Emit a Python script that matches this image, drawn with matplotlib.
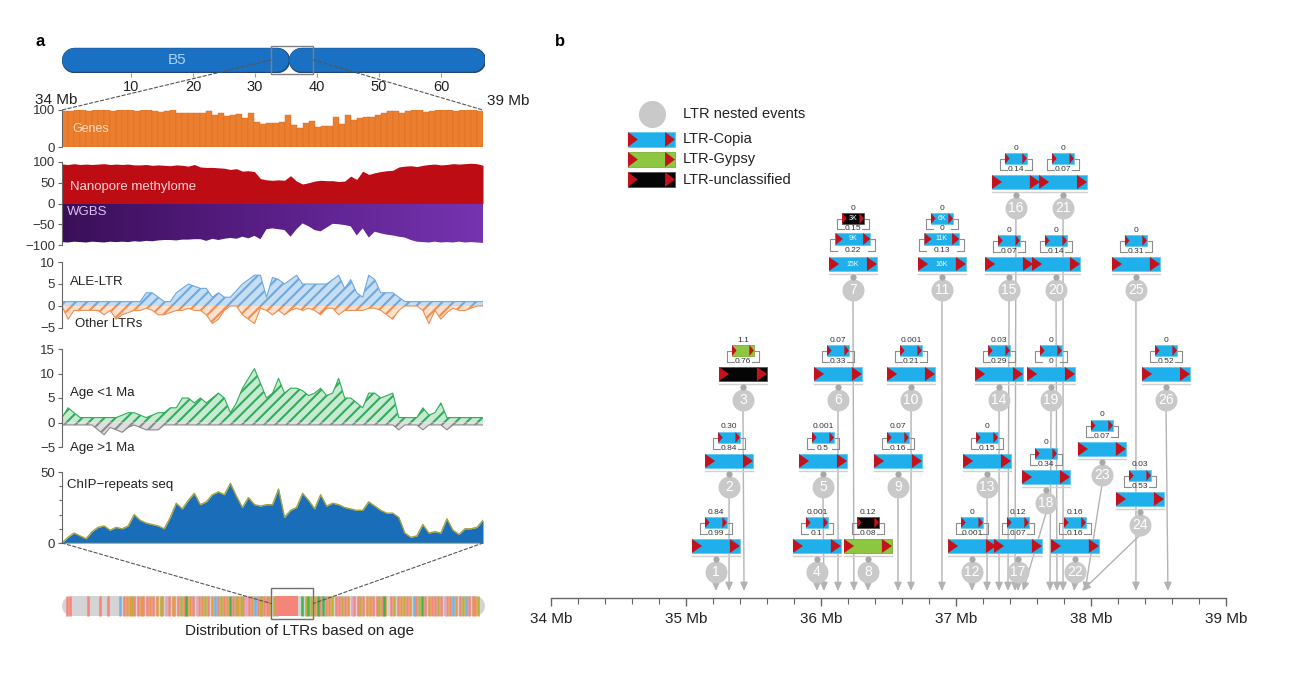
"""
Nested LTR retrotransposon figure (panel a: tracks on chr B5, panel b: nested events 34-39 Mb).
"""

import numpy as np
import matplotlib
matplotlib.use('Agg')
import matplotlib.pyplot as plt
from matplotlib.patches import Rectangle, Polygon, ConnectionPatch
from matplotlib.colors import LinearSegmentedColormap

plt.rcParams['font.family'] = ['Liberation Sans', 'DejaVu Sans']
plt.rcParams['hatch.linewidth'] = 1.5

W, H = 1310, 676

# ---------------- panel a data ----------------
CHR_NAME = 'B5'
CHR_LEN = 67
CENTROMERE = 35.5
CHR_TICKS = [10, 20, 30, 40, 50, 60]
ZOOM_BOX = (32.6, 39.4)

GENES = [98, 98, 99, 100, 96, 99, 99, 100, 97, 100,
         100, 99, 96, 99, 100, 97, 95, 96, 99, 93,
         93, 92, 92, 92, 96, 87, 92, 84, 86, 90,
         78, 93, 68, 63, 64, 66, 67, 87, 60, 52,
         66, 70, 55, 56, 57, 82, 63, 86, 72, 78,
         80, 82, 86, 93, 96, 96, 92, 97, 99, 99,
         94, 96, 99, 99, 100, 98, 99, 100, 99, 98]

METH_NANOPORE = [95, 94, 96, 94, 95, 94, 95, 96, 94, 95,
                 94, 95, 93, 93, 94, 92, 93, 92, 91, 93,
                 92, 90, 94, 88, 87, 87, 86, 85, 82, 84,
                 78, 79, 77, 60, 57, 56, 57, 56, 67, 54,
                 47, 50, 54, 56, 55, 55, 53, 54, 66, 58,
                 78, 70, 74, 77, 79, 80, 88, 90, 91, 89,
                 92, 94, 95, 93, 94, 96, 95, 96, 97, 96, 92]

METH_WGBS = [-93, -94, -92, -93, -94, -92, -93, -94, -92, -93,
             -92, -93, -91, -92, -90, -91, -89, -88, -88, -89,
             -87, -87, -86, -86, -90, -85, -88, -85, -83, -85,
             -80, -84, -78, -86, -62, -60, -62, -64, -80, -62,
             -48, -55, -64, -67, -58, -49, -50, -52, -55, -77,
             -60, -82, -68, -72, -75, -77, -80, -82, -88, -92,
             -93, -94, -92, -94, -93, -94, -92, -94, -93, -94, -95]

ALE_LTR = [1, 1, 1, 1, 1, 1, 1, 1, 1, 1, 1, 1, 1, 1,
           3, 3, 2, 1, 1, 3, 4, 5, 4.5, 4, 4, 2, 3, 2, 2, 3.5,
           5, 6, 7, 7, 2, 6.5, 6, 5, 6, 7, 5, 5, 5, 5, 5, 6,
           7, 4, 6, 3, 2, 7, 6, 3, 3, 3, 2,
           1, 1, 1, 1, 1, 1, 1, 1, 1, 1, 1, 1, 1, 1]

OTHER_LTR = [0, -3, -1, -1, -1, -1, -1, -2, -1, -3,
             -2, -1.5, -1, -1, -0.5, -1, -2, -2, -1.5, -1,
             -1, -0.5, -1, -1, -2, -4, -3, -1, 0, 0,
             -2, -3, -4, -0.5, -1, -2, -1, -2, -1, -0.5,
             -1, -0.5, -1, -2, -0.5, -0.5, -2, -1, -1, -1,
             -1, -0.5, -0.5, -1, -2, -3, -1, 0, 0, 0,
             -1, -4, -1, -3, -1.5, -0.5, -1, -1, -0.5, 0, 0]

AGE_YOUNG = [1, 3, 2, 1, 1, 1, 1, 1, 1, 1,
             1.5, 2, 2, 1.5, 1, 1.5, 2, 2, 3, 3,
             5, 5, 4, 5, 4, 5, 6, 5, 2, 4,
             7, 9, 11, 8, 5, 6, 9, 6, 7, 7,
             6.5, 5.5, 6, 7, 5.5, 6, 9, 5, 5, 4,
             3, 6, 6, 5, 5.5, 6, 1, 1, 1, 1,
             3, 1.5, 2, 4, 1, 1, 1, 1, 1, 1, 1]

AGE_OLD = [-0.5, -0.5, -0.5, -0.5, -0.5, -0.5, -1.5, -2.5, -1, -1.5,
           -2, -1, -0.5, -1, -1.5, -1.5, -1.5, -0.5, -0.5, -0.5,
           -0.5, -0.5, -0.5, -0.5, -0.5, -0.5, -0.5, -0.5, -0.5, -0.5,
           -0.5, -0.5, -0.5, -0.5, -0.5, -0.5, -0.5, -0.5, -0.5, -0.5,
           -0.5, -0.5, -0.5, -0.5, -0.5, -0.5, -0.5, -0.5, -0.5, -0.5,
           -0.5, -0.5, -0.5, -0.5, -0.5, -0.5, -1.5, -0.5, -0.5, -0.5,
           -1.5, -0.5, -0.5, -0.5, -1.5, -0.5, -0.5, -0.5, -0.5, -0.5, -0.5]

CHIP = [0, 4, 7, 5, 3, 8, 11, 12, 9, 11,
        10, 12, 20, 16, 14, 13, 12, 10, 18, 28,
        24, 30, 35, 27, 29, 34, 36, 34, 42, 33,
        25, 32, 27, 26, 27, 27, 38, 18, 23, 25,
        35, 30, 24, 34, 26, 28, 27, 25, 24, 23,
        23, 29, 26, 23, 21, 21, 18, 7, 4, 5,
        13, 7, 8, 7, 17, 9, 6, 10, 10, 11, 16]

# LTR insertions along the whole chromosome (Mb), by age class colour
STRIPE_SALMON = [-0.4, 0.15, 3.1, 5.0, 6.3, 8.8, 10.5, 11.2, 12.0, 12.6, 13.5,
                 15.0, 16.2, 17.0, 17.6, 18.5, 20.0, 21.5, 22.5, 24.0, 25.0,
                 26.5, 28.0, 29.0, 30.5, 31.5, 32.0, 40.5, 41.5, 43.0, 43.6,
                 44.5, 46.0, 46.6, 47.5, 49.0, 49.6, 50.5, 52.0, 53.0, 54.5,
                 56.0, 57.5, 58.5, 59.0, 60.0, 61.5, 63.0, 64.5, 65.2]
STRIPE_ORANGE = [9.4, 9.8, 11.6, 13.0, 14.2, 16.8, 19.0, 19.5, 21.0, 23.0,
                 25.5, 27.2, 29.5, 31.0, 32.2, 39.6, 42.0, 45.0, 48.0, 48.5,
                 51.0, 53.6, 55.0, 58.0, 61.0, 62.4, 65.5]
STRIPE_OLIVE = [10.2, 14.8, 18.0, 22.0, 24.5, 26.9, 27.8, 30.9, 33.0, 38.2,
                39.0, 42.5, 44.0, 47.0, 50.0, 52.5, 54.0, 56.5, 59.5, 63.5, 66.0]
STRIPE_GREEN = [18.8, 26.0, 37.6, 38.6, 40.2, 41.0, 50.8, 57.0]
STRIPE_BLUE = [8.2, 23.6, 30.0, 33.6, 55.6, 62.0, 64.0]
STRIPE_PINK = [15.6, 20.6, 28.6, 45.6, 60.6]
YOUNG_BLOCK = (33.2, 36.9)

# ---------------- panel b data ----------------
EVENT_ID = list(range(1, 27))
EVENT_MB = [35.222, 35.319, 35.422, 35.970, 36.015, 36.126, 36.237, 36.348,
            36.570, 36.667, 36.896, 37.119, 37.230, 37.319, 37.393, 37.444,
            37.459, 37.667, 37.704, 37.741, 37.793, 37.881, 38.081, 38.363,
            38.333, 38.556]
# height of the event marker above the axis (drawing units)
EVENT_LEVEL = [26, 111, 198, 26, 111, 198, 308, 26, 111, 198, 308, 26, 111,
               198, 308, 390, 26, 95, 198, 308, 390, 26, 123, 73, 308, 198]
ARROW_MB = [35.222, 35.319, 35.430, 35.970, 36.022, 36.126, 36.244, 36.348,
            36.570, 36.667, 36.896, 37.119, 37.230, 37.319, 37.385, 37.437,
            37.459, 37.496, 37.696, 37.748, 37.793, 37.874, 37.956, 37.933,
            38.333, 38.570]
OUTER_TYPE = ['copia', 'copia', 'unclass', 'copia', 'copia', 'copia', 'copia',
              'gypsy', 'copia', 'copia', 'copia', 'copia', 'copia', 'copia',
              'copia', 'copia', 'copia', 'copia', 'copia', 'copia', 'copia',
              'copia', 'copia', 'copia', 'copia', 'copia']
INNER_TYPES = [['copia'], ['copia'], ['gypsy'], ['copia'], ['copia'], ['copia'],
               ['copia', 'unclass'], ['unclass'], ['copia'], ['copia'],
               ['copia', 'copia'], ['copia'], ['copia'], ['copia'], ['copia'],
               ['copia'], ['copia'], ['copia'], ['copia'], ['copia'], ['copia'],
               ['copia'], ['copia'], ['copia'], ['copia'], ['copia']]
AGES = [['0.99', '0.84'], ['0.84', '0.30'], ['0.76', '1.1'], ['0.1', '0.001'],
        ['0.5', '0.001'], ['0.33', '0.07'], ['0.22', '0.15', '0'],
        ['0.08', '0.12'], ['0.16', '0.07'], ['0.21', '0.001'],
        ['0.13', '0', '0'], ['0.001', '0'], ['0.15', '0'], ['0.29', '0.03'],
        ['0.07', '0'], ['0.14', '0'], ['0.07', '0.12'], ['0.34', '0'],
        ['0', '0'], ['0.14', '0'], ['0.07', '0'], ['0.16', '0.16'],
        ['0.07', '0'], ['0.53', '0.03'], ['0.31', '0'], ['0.52', '0']]
SIZES = {7: ['15K', '9K', '3K'], 11: ['16K', '11K', '6K']}

LEGEND_LABELS = ['LTR nested events', 'LTR-Copia', 'LTR-Gypsy', 'LTR-unclassified']

# ---------------- styling ----------------
TE_FACE = {'copia': '#1fafea', 'gypsy': '#8dc63f', 'unclass': '#050505'}
TE_EDGE = {'copia': '#62c9f2', 'gypsy': '#79b02f', 'unclass': '#555555'}
TRI_RED = '#c4121c'
C_AXIS = '#666666'
C_TEXT = '#222222'
MB_PER_PX = 5 / 675


def px_axes(fig, x0, y0, x1, y1):
    """Axes placed by pixel box (top-left origin)."""
    return fig.add_axes([x0 / W, 1 - y1 / H, (x1 - x0) / W, (y1 - y0) / H])


def style_track(ax, ylim, yticks):
    ax.set_xlim(34, 39)
    ax.set_ylim(*ylim)
    ax.set_yticks(yticks)
    ax.set_xticks([])
    for s in ['top', 'right', 'bottom']:
        ax.spines[s].set_visible(False)
    ax.spines['left'].set_color(C_AXIS)
    ax.spines['left'].set_linewidth(0.8)
    ax.tick_params(axis='y', length=3, width=0.8, pad=2, labelsize=9.5,
                   colors=C_AXIS, labelcolor='#333333')
    ax.patch.set_alpha(0)


def draw_te(ax, xc, y0, wpx, hpx, kind, text=None):
    w = wpx * MB_PER_PX
    x0 = xc - w / 2
    ax.add_patch(Rectangle((x0, y0), w, hpx, facecolor=TE_FACE[kind],
                           edgecolor=TE_EDGE[kind], lw=0.6, zorder=3))
    tw = wpx * 0.21 * MB_PER_PX
    ax.add_patch(Polygon([(x0, y0), (x0, y0 + hpx), (x0 + tw, y0 + hpx / 2)],
                         closed=True, facecolor=TRI_RED, lw=0, zorder=4))
    ax.add_patch(Polygon([(x0 + w - tw, y0), (x0 + w - tw, y0 + hpx), (x0 + w, y0 + hpx / 2)],
                         closed=True, facecolor=TRI_RED, lw=0, zorder=4))
    if text:
        ax.text(xc, y0 + hpx / 2, text, color='white', fontsize=5,
                ha='center', va='center', zorder=5)
    return x0, x0 + w


fig = plt.figure(figsize=(W / 100, H / 100), dpi=100, facecolor='white')

# ================= panel a =================
fig.text(35 / W, 1 - 42 / H, 'a', fontsize=12, fontweight='bold', va='center')

# chromosome ideogram
ax_chr = px_axes(fig, 62, 47, 485, 73)
ax_chr.set_xlim(-1.13, 67.1)
ax_chr.set_ylim(0, 1)
cap = 12 * (67.1 + 1.13) / 423  # cap radius in Mb (12 px)
lobes = [(-1.13 + cap, CENTROMERE - cap), (CENTROMERE + cap, 67.1 - cap)]
for seg in lobes:
    ax_chr.plot(seg, [0.5, 0.5], color='#23466d', lw=18.3, solid_capstyle='round', zorder=1)
for seg in lobes:
    ax_chr.plot(seg, [0.5, 0.5], color='#1a70c3', lw=17.0, solid_capstyle='round', zorder=2)
ax_chr.text(17.4, 0.5, CHR_NAME, color='#a9d2f6', fontsize=11, ha='center', va='center', zorder=3)
ax_chr.add_patch(Rectangle((ZOOM_BOX[0], -0.02), ZOOM_BOX[1] - ZOOM_BOX[0], 1.04,
                           fill=False, edgecolor='#808080', lw=1, zorder=4, clip_on=False))
ax_chr.set_xticks(CHR_TICKS)
ax_chr.set_yticks([])
for s in ax_chr.spines.values():
    s.set_visible(False)
ax_chr.tick_params(axis='x', length=3, pad=2, labelsize=10.5, colors='#999999', labelcolor=C_TEXT)
ax_chr.patch.set_alpha(0)

fig.text(35 / W, 1 - 100 / H, '34 Mb', fontsize=11, va='center', color=C_TEXT)
fig.text(487 / W, 1 - 101 / H, '39 Mb', fontsize=11, va='center', color=C_TEXT)

# genes
ax_g = px_axes(fig, 62, 110, 483, 147)
n = len(GENES)
xb = 34 + (np.arange(n) + 0.5) * 5 / n
ax_g.bar(xb, GENES, width=5 / n, color='#eb7f2f', edgecolor='#d36c22', lw=0.3)
style_track(ax_g, (0, 100), [0, 100])
ax_g.text(34.12, 50, 'Genes', color='#fbdcc2', fontsize=9, va='center')

# methylome
ax_m = px_axes(fig, 62, 162, 483, 245)
x = np.linspace(34, 39, len(METH_NANOPORE))
ax_m.fill_between(x, 0, METH_NANOPORE, color='#be0c15', lw=0, zorder=2)
cmap = LinearSegmentedColormap.from_list('wgbs', ['#3a0f58', '#5a1f88', '#7634b0'])
im = ax_m.imshow(np.linspace(0, 1, 256)[None, :], cmap=cmap, extent=(34, 39, -100, 0),
                 aspect='auto', zorder=1)
xw = np.linspace(34, 39, len(METH_WGBS))
poly = ax_m.fill_between(xw, METH_WGBS, 0, facecolor='none', edgecolor='none')
im.set_clip_path(poly.get_paths()[0], transform=ax_m.transData)
style_track(ax_m, (-100, 100), [-100, -50, 0, 50, 100])
ax_m.text(34.1, 40, 'Nanopore methylome', color='#f8d6d6', fontsize=9.5, va='center', zorder=3)
ax_m.text(34.06, -20, 'WGBS', color='#dcc0f2', fontsize=9.5, va='center', zorder=3)

# ALE vs other LTRs
ax_a = px_axes(fig, 62, 262, 483, 328)
x = np.linspace(34, 39, len(ALE_LTR))
ax_a.fill_between(x, 0, ALE_LTR, facecolor='#c6def4', edgecolor='#6ea8df', hatch='///', lw=0)
ax_a.plot(x, ALE_LTR, color='#6ea8df', lw=0.8)
x = np.linspace(34, 39, len(OTHER_LTR))
ax_a.fill_between(x, OTHER_LTR, 0, facecolor='#fde0cd', edgecolor='#ee8f50', hatch='///', lw=0)
ax_a.plot(x, OTHER_LTR, color='#ee8f50', lw=0.8)
style_track(ax_a, (-5, 10), [-5, 0, 5, 10])
ax_a.text(34.1, 5.4, 'ALE-LTR', color=C_TEXT, fontsize=9.5, va='center')
ax_a.text(34.15, -4.1, 'Other LTRs', color=C_TEXT, fontsize=9.5, va='center')

# age classes
ax_y = px_axes(fig, 62, 349, 483, 447)
x = np.linspace(34, 39, len(AGE_YOUNG))
ax_y.fill_between(x, 0, AGE_YOUNG, facecolor='#c8ead2', edgecolor='#2fae5a', hatch='///', lw=0)
ax_y.plot(x, AGE_YOUNG, color='#2fae5a', lw=0.8)
x = np.linspace(34, 39, len(AGE_OLD))
ax_y.fill_between(x, AGE_OLD, 0, facecolor='#dedede', edgecolor='#8a8a8a', hatch='///', lw=0)
ax_y.plot(x, AGE_OLD, color='#8a8a8a', lw=0.8)
style_track(ax_y, (-5, 15), [-5, 0, 5, 10, 15])
ax_y.text(34.1, 6.0, 'Age <1 Ma', color=C_TEXT, fontsize=9.5, va='center')
ax_y.text(34.09, -5.2, 'Age >1 Ma', color=C_TEXT, fontsize=9.5, va='center', clip_on=False)

# ChIP
ax_c = px_axes(fig, 62, 472, 483, 543)
x = np.linspace(34, 39, len(CHIP))
ax_c.fill_between(x, 0, CHIP, color='#1a6db8', lw=0)
ax_c.plot(x, CHIP, color='#a3a23c', lw=1.0)
ax_c.axhline(0, color='#a3a23c', lw=1.0)
style_track(ax_c, (0, 50), [0, 50])
ax_c.set_yticks([10, 20, 30, 40], minor=True)
ax_c.tick_params(axis='y', which='minor', length=2.5, width=0.8, colors=C_AXIS)
ax_c.text(34.06, 41, 'ChIP\u2212repeats seq', color=C_TEXT, fontsize=9.5, va='center')

# LTR age distribution along chromosome
ax_d = px_axes(fig, 62, 588, 485, 619)
ax_d.set_xlim(-1.13, 67.1)
ax_d.set_ylim(0, 1)
ax_d.plot([-1.13 + 1.6, 67.1 - 1.6], [0.42, 0.42], color='#d4d4d4', lw=14.4,
          solid_capstyle='round', zorder=1)
for pos, col in [(STRIPE_SALMON, '#f3857a'), (STRIPE_ORANGE, '#e59a45'),
                 (STRIPE_OLIVE, '#b9b03c'), (STRIPE_GREEN, '#3fb44a'),
                 (STRIPE_BLUE, '#72b2e2'), (STRIPE_PINK, '#e0a3c2')]:
    ax_d.vlines(pos, 0.1, 0.74, colors=col, lw=1.8, zorder=2)
ax_d.axvspan(YOUNG_BLOCK[0], YOUNG_BLOCK[1], ymin=0.1, ymax=0.74, color='#f3857a', lw=0, zorder=2)
ax_d.add_patch(Rectangle((ZOOM_BOX[0], 0), ZOOM_BOX[1] - ZOOM_BOX[0], 1,
                         fill=False, edgecolor='#707070', lw=1, zorder=4, clip_on=False))
ax_d.axis('off')
fig.text(300 / W, 1 - 631 / H, 'Distribution of LTRs based on age', fontsize=11,
         ha='center', va='center', color=C_TEXT)

# dashed zoom connectors
for xa, axb, xyb in [(ZOOM_BOX[0], ax_g, (0, 1)), (ZOOM_BOX[1], ax_g, (1, 1))]:
    fig.add_artist(ConnectionPatch(xyA=(xa, 0.5), coordsA=ax_chr.transData, xyB=xyb,
                                   coordsB=axb.transAxes, ls=(0, (3, 2)), color='#555555', lw=0.8))
for xyA, xb_ in [((0, 0), ZOOM_BOX[0]), ((1, 0), ZOOM_BOX[1])]:
    fig.add_artist(ConnectionPatch(xyA=xyA, coordsA=ax_c.transAxes, xyB=(xb_, 0.5),
                                   coordsB=ax_d.transData, ls=(0, (3, 2)), color='#555555', lw=0.8))

# ================= panel b =================
fig.text(555 / W, 1 - 42 / H, 'b', fontsize=12, fontweight='bold', va='center')
ax = px_axes(fig, 551, 78, 1226, 598)
ax.set_xlim(34, 39)
ax.set_ylim(0, 520)
for s in ['top', 'right', 'left']:
    ax.spines[s].set_visible(False)
ax.spines['bottom'].set_color(C_AXIS)
ax.spines['bottom'].set_linewidth(1)
ax.set_yticks([])
ax.set_xticks(range(34, 40))
ax.set_xticklabels([f'{v} Mb' for v in range(34, 40)])
ax.set_xticks(np.arange(34, 39.01, 0.2), minor=True)
ax.tick_params(axis='x', which='major', length=6, width=1, colors=C_AXIS,
               labelcolor=C_TEXT, labelsize=11, pad=4)
ax.tick_params(axis='x', which='minor', length=4, width=0.8, colors=C_AXIS)

for i, eid in enumerate(EVENT_ID):
    cx, cy = EVENT_MB[i], EVENT_LEVEL[i]
    ax.annotate('', xy=(ARROW_MB[i], 7), xytext=(cx, cy - 10),
                arrowprops=dict(arrowstyle='-|>,head_length=0.5,head_width=0.22',
                                color='#b3b3b3', lw=1.0, shrinkA=0, shrinkB=0),
                zorder=1)
    ax.scatter([cx], [cy], s=250, color='#c9c9c9', lw=0, zorder=3)
    ax.text(cx, cy, str(eid), color='white', fontsize=10, ha='center', va='center', zorder=4)
    ax.scatter([cx], [cy + 13], s=20, color='#a8a8a8', lw=0, zorder=3)

    kinds = [OUTER_TYPE[i]] + INNER_TYPES[i]
    if len(kinds) == 2:
        widths, heights, gaps = [48, 22], [14, 11], [11]
    else:
        widths, heights, gaps = [48, 35, 22], [14, 12, 11], [12, 9]
    sizes = SIZES.get(eid, [None] * len(kinds))
    y0 = cy + 19
    top = None
    for k, kind in enumerate(kinds):
        if k > 0:
            y0 = top + gaps[k - 1]
            ly = (top + y0) / 2
            ax.text(cx, ly, AGES[i][k - 1], fontsize=6, color='#333333',
                    ha='center', va='center', zorder=5)
        xl, xr = draw_te(ax, cx, y0, widths[k], heights[k], kind, sizes[k])
        if k == 0:
            ax.plot([xl, xr], [y0 - 2.5, y0 - 2.5], color='#d0d0d0', lw=1, zorder=2)
        else:
            ym = y0 + heights[k] / 2
            d, e = 5 * MB_PER_PX, 2 * MB_PER_PX
            ax.plot([xl, xl - d, xl - d, xl + e], [ym, ym, ly, ly], color='#8c8c8c', lw=0.8, zorder=2)
            ax.plot([xr, xr + d, xr + d, xr - e], [ym, ym, ly, ly], color='#8c8c8c', lw=0.8, zorder=2)
        top = y0 + heights[k]
    ax.text(cx, top + 5, AGES[i][-1], fontsize=6, color='#333333',
            ha='center', va='center', zorder=5)

# legend
ax.scatter([34.748], [484], s=380, color='#c9c9c9', lw=0, zorder=3, clip_on=False)
ax.text(34.978, 484, LEGEND_LABELS[0], fontsize=10.5, va='center', color=C_TEXT)
for lab, kind, yb in zip(LEGEND_LABELS[1:], ['copia', 'gypsy', 'unclass'], [451, 431, 411]):
    draw_te(ax, 34.744, yb, 47, 15, kind)
    ax.text(34.978, yb + 7.5, lab, fontsize=10.5, va='center', color=C_TEXT)

fig.savefig('out.png', dpi=100, facecolor='white')
